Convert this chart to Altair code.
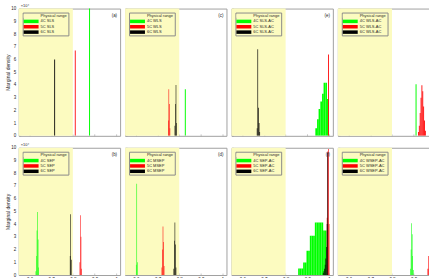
import altair as alt
import pandas as pd

# ---------------- data (values in units of 1e4) ----------------
X_MIN, X_MAX = 0.55, 1.018
PHYS_MAX = 0.8
Y_MAX = 10
x_ticks = [0.6, 0.7, 0.8, 0.9, 1.0]
y_ticks = [0, 1, 2, 3, 4, 5, 6, 7, 8, 9, 10]

panel_letters = ["a", "c", "e", "g", "b", "d", "f", "h"]
panel_methods = ["SLS", "WLS", "SLS-AC", "WLS-AC", "SEP", "MSEP", "SEP-AC", "WSEP-AC"]
series_prefix = ["4C", "5C", "6C"]
series_colors = ["#00FF00", "#FF0000", "#000000"]
phys_label = "Physical range"
phys_color = "#FCFBC0"

# panel (a) SLS
a_4C_x = [0.877]; a_4C_h = [10.5]; a_4C_w = 0.0045
a_5C_x = [0.811]; a_5C_h = [6.7]; a_5C_w = 0.004
a_6C_x = [0.716]; a_6C_h = [6.0]; a_6C_w = 0.004
# panel (c) WLS
c_4C_x = [0.828]; c_4C_h = [3.65]; c_4C_w = 0.0045
c_5C_x = [0.7495, 0.752, 0.7545, 0.757]; c_5C_h = [1.2, 3.65, 2.5, 0.6]; c_5C_w = 0.0025
c_6C_x = [0.780, 0.7825, 0.785, 0.7875]; c_6C_h = [0.8, 2.5, 4.0, 1.0]; c_6C_w = 0.0025
# panel (e) SLS-AC
e_4C_x = [0.941, 0.949, 0.956, 0.964, 0.972, 0.979, 0.987, 0.995]
e_4C_h = [0.6, 1.3, 2.1, 2.7, 3.3, 4.17, 4.17, 2.9]; e_4C_w = 0.0077
e_5C_x = [0.998]; e_5C_h = [6.4]; e_5C_w = 0.004
e_6C_x = [0.6685, 0.6715, 0.6745, 0.6775, 0.6805]; e_6C_h = [0.6, 6.8, 2.2, 1.0, 0.3]; e_6C_w = 0.003
# panel (g) WLS-AC
g_4C_x = [0.911]; g_4C_h = [4.05]; g_4C_w = 0.0045
g_5C_x = [0.922, 0.926, 0.930, 0.934, 0.938, 0.942, 0.946, 0.950, 0.954]
g_5C_h = [0.3, 0.8, 1.8, 3.0, 3.97, 3.5, 2.3, 1.2, 0.4]; g_5C_w = 0.004
g_6C_x = []; g_6C_h = []; g_6C_w = 0.004
# panel (b) SEP
b_4C_x = [0.6295, 0.632, 0.6345, 0.637, 0.6395, 0.642]; b_4C_h = [0.3, 1.5, 3.5, 4.96, 2.8, 0.6]; b_4C_w = 0.0025
b_5C_x = [0.8325, 0.835, 0.8375, 0.84]; b_5C_h = [1.0, 4.7, 3.0, 0.5]; b_5C_w = 0.0025
b_6C_x = [0.7875, 0.79, 0.7925]; b_6C_h = [1.5, 4.78, 1.2]; b_6C_w = 0.0025
# panel (d) MSEP
d_4C_x = [0.6015, 0.604, 0.6065]; d_4C_h = [0.8, 7.18, 1.0]; d_4C_w = 0.0025
d_5C_x = [0.720, 0.7225, 0.725, 0.7275, 0.730]; d_5C_h = [0.6, 2.0, 3.81, 2.6, 0.7]; d_5C_w = 0.0025
d_6C_x = [0.775, 0.7775, 0.780, 0.7825, 0.785]; d_6C_h = [0.5, 2.7, 4.12, 2.4, 0.6]; d_6C_w = 0.0025
# panel (f) SEP-AC
f_4C_x = [0.8617, 0.8694, 0.8771, 0.8848, 0.8925, 0.9002, 0.9079, 0.9156, 0.9233,
          0.9310, 0.9387, 0.9464, 0.9541, 0.9618, 0.9695, 0.9772, 0.9849]
f_4C_h = [0.52, 0.52, 0.52, 0.99, 0.99, 1.9, 1.9, 3.08, 3.08, 3.08, 4.12, 4.12, 4.12,
          4.12, 4.12, 3.5, 3.5]
f_4C_w = 0.0077
f_5C_x = [0.9915, 0.9945, 0.9975, 1.0005]; f_5C_h = [4.5, 9.7, 9.9, 4.0]; f_5C_w = 0.003
f_6C_x = [0.9735, 0.9765, 0.9795, 0.9825, 0.9855, 0.9885, 0.9915, 0.9945]
f_6C_h = [0.15, 0.3, 0.5, 0.8, 1.3, 2.2, 4.0, 9.6]; f_6C_w = 0.003
# panel (h) WSEP-AC
h_4C_x = [0.8855, 0.888, 0.8905, 0.893, 0.8955, 0.898]; h_4C_h = [0.5, 2.0, 4.07, 3.2, 1.5, 0.4]; h_4C_w = 0.0025
h_5C_x = [0.966, 0.970, 0.974, 0.978, 0.982]; h_5C_h = [0.5, 1.5, 3.0, 3.6, 1.5]; h_5C_w = 0.004
h_6C_x = []; h_6C_h = []; h_6C_w = 0.004

SERIES = {
    "a": [(a_4C_x, a_4C_h, a_4C_w), (a_5C_x, a_5C_h, a_5C_w), (a_6C_x, a_6C_h, a_6C_w)],
    "c": [(c_4C_x, c_4C_h, c_4C_w), (c_5C_x, c_5C_h, c_5C_w), (c_6C_x, c_6C_h, c_6C_w)],
    "e": [(e_4C_x, e_4C_h, e_4C_w), (e_5C_x, e_5C_h, e_5C_w), (e_6C_x, e_6C_h, e_6C_w)],
    "g": [(g_4C_x, g_4C_h, g_4C_w), (g_5C_x, g_5C_h, g_5C_w), (g_6C_x, g_6C_h, g_6C_w)],
    "b": [(b_4C_x, b_4C_h, b_4C_w), (b_5C_x, b_5C_h, b_5C_w), (b_6C_x, b_6C_h, b_6C_w)],
    "d": [(d_4C_x, d_4C_h, d_4C_w), (d_5C_x, d_5C_h, d_5C_w), (d_6C_x, d_6C_h, d_6C_w)],
    "f": [(f_4C_x, f_4C_h, f_4C_w), (f_5C_x, f_5C_h, f_5C_w), (f_6C_x, f_6C_h, f_6C_w)],
    "h": [(h_4C_x, h_4C_h, h_4C_w), (h_5C_x, h_5C_h, h_5C_w), (h_6C_x, h_6C_h, h_6C_w)],
}

# ---------------- layout / style ----------------
W, H = 102, 128
FONT = "Liberation Sans, DejaVu Sans"
TXT = "#262626"
FRAME = "#a0a0a0"


def make_panel(i):
    letter = panel_letters[i]
    method = panel_methods[i]
    col = i % 4
    row = i // 4
    labels = [phys_label] + [f"{p} {method}" for p in series_prefix]
    cscale = alt.Scale(domain=labels, range=[phys_color] + series_colors)

    rows = []
    for k, (xs, hs, w) in enumerate(SERIES[letter]):
        for xc, hv in zip(xs, hs):
            rows.append({"series": labels[k + 1], "x0": xc - w / 2, "x1": xc + w / 2,
                         "y0": 0.0, "y1": hv, "ord": k})
    bars_df = pd.DataFrame(rows, columns=["series", "x0", "x1", "y0", "y1", "ord"])
    patch_df = pd.DataFrame({"series": [phys_label], "x0": [X_MIN], "x1": [PHYS_MAX],
                             "y0": [0.0], "y1": [float(Y_MAX)]})

    xax = alt.Axis(values=x_ticks, format="~g", labels=(row == 1), ticks=True,
                   tickSize=2, offset=-2, tickColor=FRAME, tickWidth=0.6,
                   domain=False, grid=False, title=None, labelFontSize=4.5,
                   labelPadding=2, labelColor=TXT, labelFont=FONT,
                   labelOverlap=False, labelFlush=False)
    yax = alt.Axis(values=y_ticks, labels=(col == 0), ticks=True,
                   tickSize=2, offset=-2, tickColor=FRAME, tickWidth=0.6,
                   domain=False, grid=False,
                   title=("Marginal density" if col == 0 else None),
                   labelFontSize=4.5, labelPadding=3, labelColor=TXT, labelFont=FONT,
                   labelOverlap=False, labelFlush=False,
                   titleFontSize=5, titleFontWeight="normal", titleColor=TXT,
                   titleFont=FONT, titlePadding=0.5)
    xs = alt.Scale(domain=[X_MIN, X_MAX], nice=False, zero=False)
    ys = alt.Scale(domain=[0, Y_MAX], nice=False)

    legend = alt.Legend(orient="top-left", offset=4, title=None, padding=1,
                        symbolType="M-3,-0.7H3V0.7H-3Z", symbolSize=25,
                        symbolOffset=5, symbolStrokeWidth=0, symbolOpacity=1,
                        labelFontSize=4, labelFont=FONT, labelColor=TXT,
                        labelOffset=7, rowPadding=0.4, strokeColor="#8a8a8a",
                        labelLimit=200)

    def enc(ch):
        return ch.encode(
            x=alt.X("x0:Q", scale=xs, axis=xax), x2="x1:Q",
            y=alt.Y("y0:Q", scale=ys, axis=yax), y2="y1:Q",
            color=alt.Color("series:N", scale=cscale, legend=legend),
        )

    patch = enc(alt.Chart(patch_df).mark_rect(opacity=1, strokeWidth=0))
    bars = enc(alt.Chart(bars_df).mark_rect(clip=True, opacity=1, strokeWidth=0))
    tag = alt.Chart(pd.DataFrame({"t": [f"({letter})"]})).mark_text(
        fontSize=4.5, font=FONT, color=TXT, align="right", baseline="middle"
    ).encode(x=alt.value(W - 3), y=alt.value(7), text="t:N")
    layers = [patch, bars]
    if col < 3:
        layers.append(tag)
    if col == 0:
        exp = alt.Chart(pd.DataFrame({"t": ["×10⁴"]})).mark_text(
            fontSize=4, font=FONT, color=TXT, align="left", baseline="bottom"
        ).encode(x=alt.value(2), y=alt.value(-0.5), text="t:N")
        layers.append(exp)
    return alt.layer(*layers).properties(width=W, height=H)


panels = [make_panel(i) for i in range(8)]
chart = alt.concat(*panels, columns=4, spacing={"row": 12, "column": 5},
                   bounds="flush").resolve_scale(color="independent").properties(
    padding={"left": 3.8, "top": 2.8, "right": -11.3, "bottom": -3.3}
).configure_view(stroke=FRAME, strokeWidth=1)

chart.save("out.html", embed_options={"renderer": "svg", "actions": False})
